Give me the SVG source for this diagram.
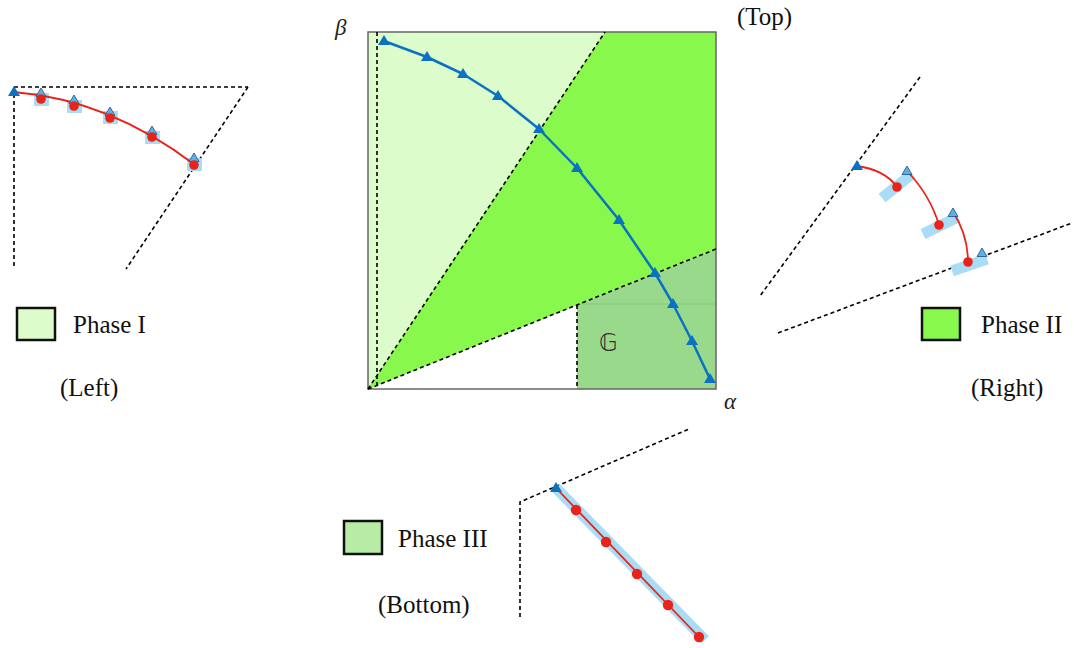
<svg xmlns="http://www.w3.org/2000/svg" width="1074" height="648" viewBox="0 0 1074 648">
<defs>
<style>
.dash{fill:none;stroke:#000;stroke-width:1.6;stroke-dasharray:4,3}
.red{fill:none;stroke:#e8231a;stroke-width:1.8;stroke-linejoin:round}
.dot{fill:#e8231a}
.band{fill:none;stroke:#a9dcf5;stroke-width:11}
.sq{fill:#a9dcf5}
.otri{fill:#5db0e6;stroke:#1a4f80;stroke-width:0.8}
.ftri{fill:#0b72c2}
.lab{font-family:"Liberation Serif",serif;font-size:25px;fill:#111}
.math{font-family:"Liberation Serif",serif;font-style:italic;font-size:23px;fill:#222}
.leg{stroke:#111;stroke-width:2.5}
</style>
<path id="tri" d="M0,-6 L6,4 L-6,4 Z"/>
<path id="stri" d="M0,-5 L5,3.5 L-5,3.5 Z"/>
</defs>

<g id="main-plot">
<polygon points="368,32 605,32 368,389" fill="#dcfccc"/>
<polygon points="368,389 605,32 716,32 716,249" fill="#88f84c"/>
<polygon points="577,305 716,249 716,389 577,389" fill="#99d98c"/>
<line x1="577" y1="304" x2="716" y2="304" stroke="#86c878" stroke-width="1"/>
<rect x="368" y="32" width="348" height="357" fill="none" stroke="#666" stroke-width="1.5"/>
<line class="dash" x1="377" y1="32" x2="377" y2="389"/>
<line class="dash" x1="368" y1="389" x2="605" y2="32"/>
<line class="dash" x1="368" y1="389" x2="716" y2="249"/>
<line class="dash" x1="577" y1="305" x2="577" y2="389"/>
<polyline fill="none" stroke="#0b72c2" stroke-width="2.5" stroke-linejoin="round" points="384,41 427,57 463,74 498,96 539,129 577,168 619,220 655,273 673,304 692,341 710,379"/>
<g class="ftri">
<use href="#tri" x="384" y="41"/><use href="#tri" x="427" y="57"/><use href="#tri" x="463" y="74"/><use href="#tri" x="498" y="96"/><use href="#tri" x="539" y="129"/><use href="#tri" x="577" y="168"/><use href="#tri" x="619" y="220"/><use href="#tri" x="655" y="273"/><use href="#tri" x="673" y="304"/><use href="#tri" x="692" y="341"/><use href="#tri" x="710" y="379"/>
</g>
<text class="math" x="335" y="35">β</text>
<text class="math" x="724" y="409">α</text>
<text class="lab" x="737" y="25">(Top)</text>
<text x="599" y="351" font-family="DejaVu Sans,sans-serif" font-size="24" fill="#333">𝔾</text>
</g>

<g id="left-panel">
<line class="dash" x1="14" y1="87" x2="248" y2="87"/>
<line class="dash" x1="14" y1="87" x2="14" y2="269"/>
<line class="dash" x1="248" y1="87" x2="126" y2="269"/>
<g class="sq">
<rect x="34" y="93" width="15" height="13"/><rect x="67" y="100" width="15" height="13"/><rect x="103" y="111" width="15" height="13"/><rect x="145" y="131" width="15" height="13"/><rect x="187" y="158" width="15" height="13"/>
</g>
<path class="red" d="M14,92 Q110,100 195,165"/>
<g class="otri">
<use href="#stri" x="41" y="93"/><use href="#stri" x="74" y="100"/><use href="#stri" x="110" y="112"/><use href="#stri" x="152" y="131"/><use href="#stri" x="194" y="158"/>
</g>
<g class="dot">
<circle cx="41" cy="99" r="4.8"/><circle cx="74" cy="106" r="4.8"/><circle cx="110" cy="118" r="4.8"/><circle cx="152" cy="137" r="4.8"/><circle cx="194" cy="165" r="4.8"/>
</g>
<use class="ftri" href="#tri" x="14" y="92"/>
</g>

<g id="right-panel">
<line class="dash" x1="920" y1="77" x2="760" y2="296"/>
<line class="dash" x1="778" y1="333" x2="1072" y2="223"/>
<line class="band" x1="882" y1="198" x2="912" y2="174"/>
<line class="band" x1="923" y1="234" x2="958" y2="217"/>
<line class="band" x1="952" y1="271" x2="987" y2="259"/>
<path class="red" d="M857,166 Q885,170 897,187"/>
<path class="red" d="M907,171 Q930,195 939,225"/>
<path class="red" d="M953,212 Q968,235 968,262"/>
<g class="otri">
<use href="#stri" x="907" y="171"/><use href="#stri" x="953" y="213"/><use href="#stri" x="982" y="253"/>
</g>
<g class="dot">
<circle cx="897" cy="187" r="4.8"/><circle cx="939" cy="225" r="4.8"/><circle cx="968" cy="262" r="4.8"/>
</g>
<use class="ftri" href="#tri" x="857" y="166"/>
</g>

<g id="bottom-panel">
<polyline class="dash" points="520,617 520,502 689,429"/>
<line class="band" x1="556" y1="488" x2="705" y2="640"/>
<line class="red" x1="556" y1="488" x2="699" y2="637"/>
<g class="dot">
<circle cx="576" cy="510" r="5.2"/><circle cx="606" cy="542" r="5.2"/><circle cx="637" cy="574" r="5.2"/><circle cx="668" cy="605" r="5.2"/><circle cx="699" cy="637" r="5.2"/>
</g>
<use class="ftri" href="#tri" x="556" y="488"/>
</g>

<g id="legend-phase1">
<rect class="leg" x="17" y="308" width="38" height="32" fill="#dcfccc"/>
<text class="lab" x="73" y="333">Phase I</text>
<text class="lab" x="60" y="396">(Left)</text>
</g>
<g id="legend-phase2">
<rect class="leg" x="922" y="308" width="38" height="32" fill="#88f84c"/>
<text class="lab" x="981" y="333">Phase II</text>
<text class="lab" x="971" y="396">(Right)</text>
</g>
<g id="legend-phase3">
<rect class="leg" x="344" y="521" width="38" height="33" fill="#b8eca6"/>
<text class="lab" x="398" y="547">Phase III</text>
<text class="lab" x="378" y="613">(Bottom)</text>
</g>
</svg>
